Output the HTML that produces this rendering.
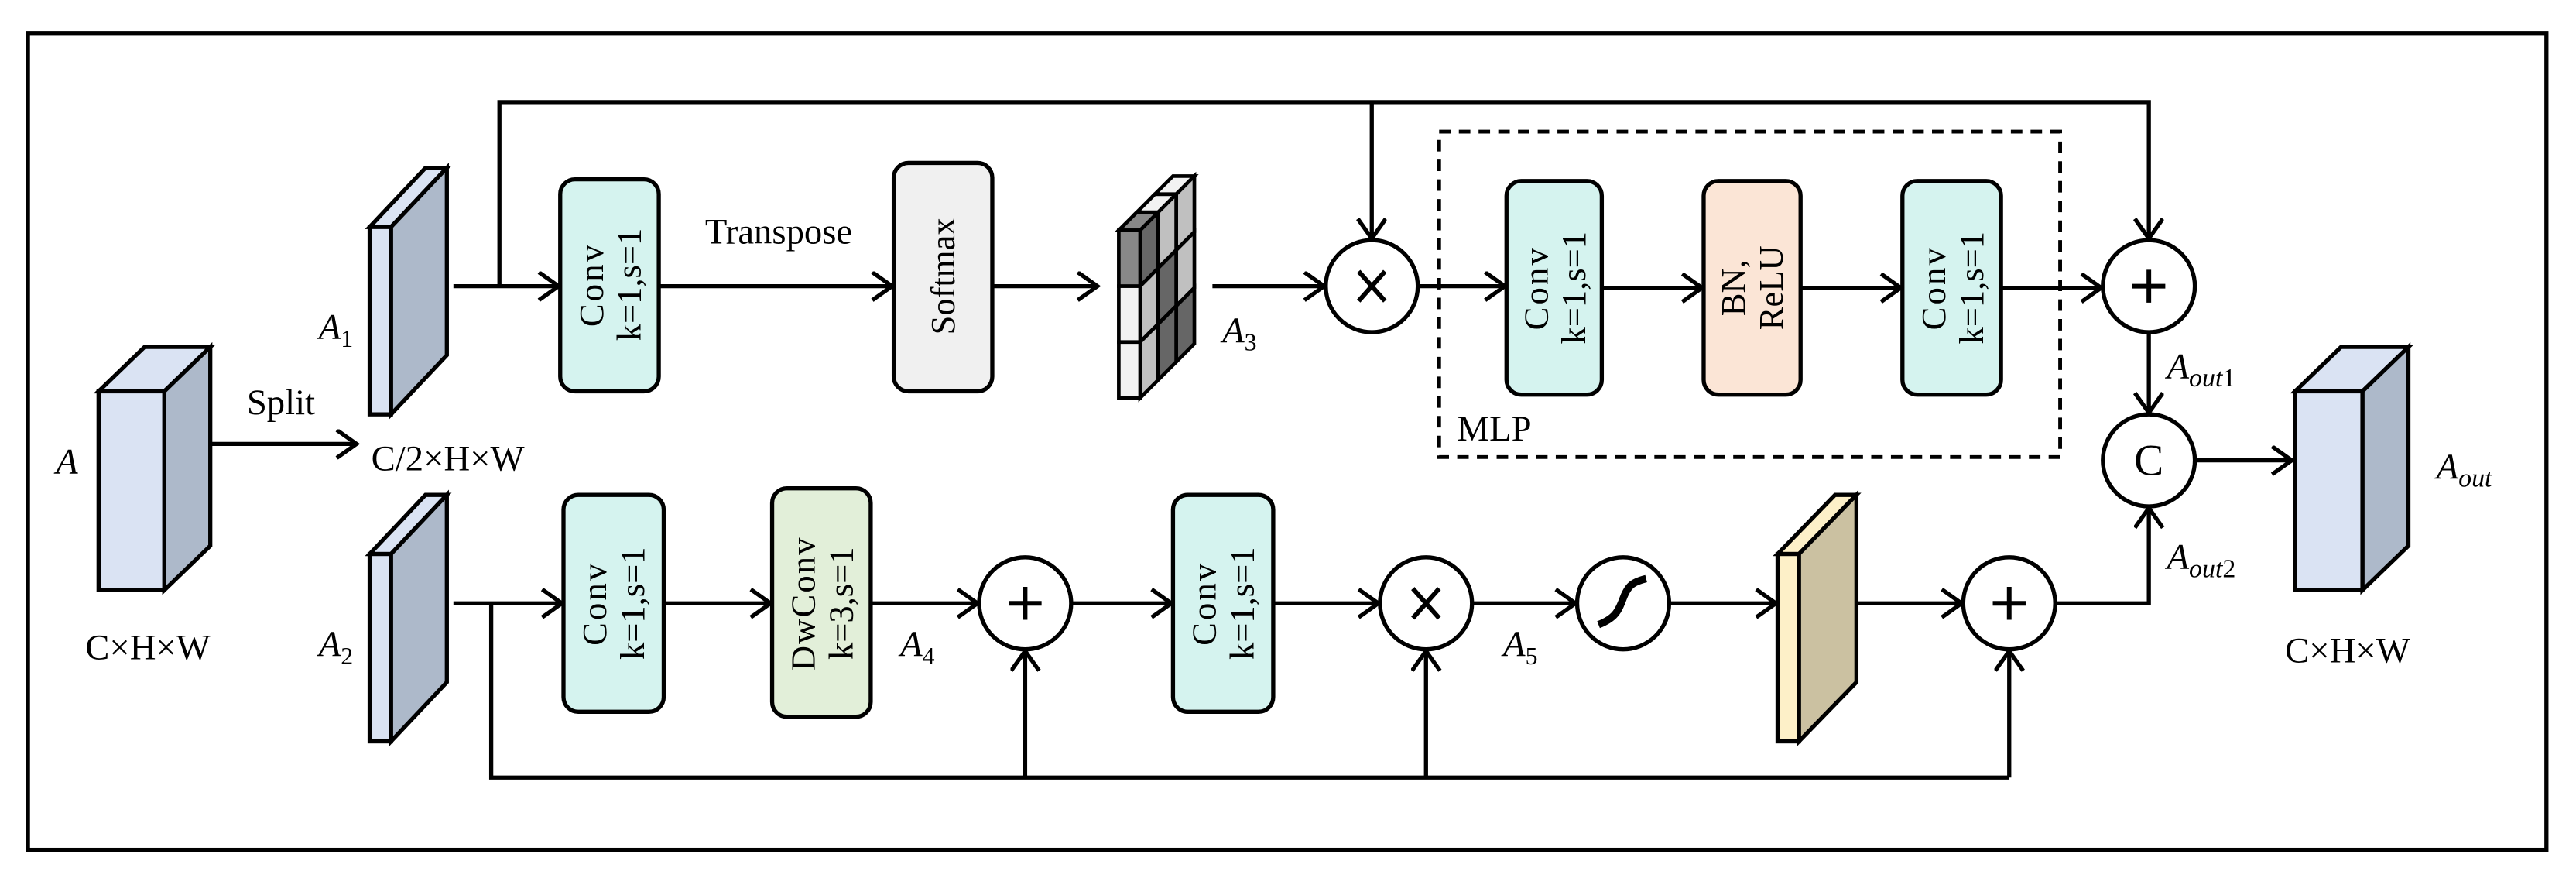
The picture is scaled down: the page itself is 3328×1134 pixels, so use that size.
<!DOCTYPE html>
<html><head><meta charset="utf-8"><style>
html,body{margin:0;padding:0;background:#fff;}
svg{display:block;}
text{font-family:"Liberation Serif",serif;fill:#000;}
</style></head><body>
<svg width="3328" height="1134" viewBox="0 0 1568 534" xmlns="http://www.w3.org/2000/svg">
<defs>
<marker id="ar" markerUnits="userSpaceOnUse" markerWidth="16" markerHeight="20" refX="13" refY="9" orient="auto">
<path d="M1,0.5 L13,9 L1,17.5" fill="none" stroke="#000" stroke-width="2.5"/>
</marker>
</defs>
<rect x="17" y="20" width="1533" height="497" fill="none" stroke="#000" stroke-width="2.5"/>

<g stroke="#000" stroke-width="2.5" stroke-linejoin="miter">
<polygon points="60,238 88,211 128,211 100,238" fill="#dae3f3"/>
<polygon points="100,238 128,211 128,332 100,359" fill="#adb9ca"/>
<rect x="60" y="238" width="40" height="121" fill="#dae3f3"/>
<polygon points="1397,238 1425,211 1466,211 1438,238" fill="#dae3f3"/>
<polygon points="1438,238 1466,211 1466,332 1438,359" fill="#adb9ca"/>
<rect x="1397" y="238" width="41" height="121" fill="#dae3f3"/>
<polygon points="225,138 259,102 272,102 238,138" fill="#dae3f3"/>
<polygon points="238,138 272,102 272,216 238,252" fill="#adb9ca"/>
<rect x="225" y="138" width="13" height="114" fill="#dae3f3"/>
<polygon points="225,337 259,301 272,301 238,337" fill="#dae3f3"/>
<polygon points="238,337 272,301 272,415 238,451" fill="#adb9ca"/>
<rect x="225" y="337" width="13" height="114" fill="#dae3f3"/>
<polygon points="1082,337 1117,301 1130,301 1095,337" fill="#fdf0c8"/>
<polygon points="1095,337 1130,301 1130,415 1095,451" fill="#cbc1a1"/>
<rect x="1082" y="337" width="13" height="114" fill="#fdf0c8"/>
</g>

<g stroke="#000" stroke-width="2.2">
<polygon points="681,140 692,129 705,129 694,140" fill="#888"/>
<polygon points="692,129 703,118 716,118 705,129" fill="#f2f2f2"/>
<polygon points="703,118 714,107 727,107 716,118" fill="#f2f2f2"/>
<polygon points="694,140 705,129 705,163 694,174" fill="#666"/>
<polygon points="694,174 705,163 705,197 694,208" fill="#c0c0c0"/>
<polygon points="694,208 705,197 705,231 694,242" fill="#c0c0c0"/>
<polygon points="705,129 716,118 716,152 705,163" fill="#c0c0c0"/>
<polygon points="705,163 716,152 716,186 705,197" fill="#666"/>
<polygon points="705,197 716,186 716,220 705,231" fill="#666"/>
<polygon points="716,118 727,107 727,141 716,152" fill="#c0c0c0"/>
<polygon points="716,152 727,141 727,175 716,186" fill="#c0c0c0"/>
<polygon points="716,186 727,175 727,209 716,220" fill="#666"/>
<rect x="681" y="140" width="13" height="34" fill="#888"/>
<rect x="681" y="174" width="13" height="34" fill="#f2f2f2"/>
<rect x="681" y="208" width="13" height="34" fill="#f2f2f2"/>
</g>

<g stroke="#000" stroke-width="2.5">
<rect x="341" y="109" width="60" height="129" rx="9" fill="#d5f3ef"/>
<rect x="544" y="99" width="60" height="139" rx="9" fill="#f0f0f0"/>
<rect x="917" y="110" width="58" height="130" rx="9" fill="#d5f3ef"/>
<rect x="1037" y="110" width="59" height="130" rx="9" fill="#fbe5d6"/>
<rect x="1158" y="110" width="60" height="130" rx="9" fill="#d5f3ef"/>
<rect x="343" y="301" width="61" height="132" rx="9" fill="#d5f3ef"/>
<rect x="470" y="297" width="60" height="139" rx="9" fill="#e2efd9"/>
<rect x="714" y="301" width="61" height="132" rx="9" fill="#d5f3ef"/>
</g>
<rect x="876" y="80" width="378" height="198" fill="none" stroke="#000" stroke-width="2.3" stroke-dasharray="7,5"/>

<g stroke="#000" stroke-width="2.5" fill="none">
<line x1="128" y1="270" x2="217" y2="270" marker-end="url(#ar)"/>
<line x1="276" y1="174" x2="340" y2="174" marker-end="url(#ar)"/>
<polyline points="304,174 304,62 1308,62 1308,145" marker-end="url(#ar)"/>
<line x1="835" y1="62" x2="835" y2="145" marker-end="url(#ar)"/>
<line x1="401" y1="174" x2="543" y2="174" marker-end="url(#ar)"/>
<line x1="604" y1="174" x2="668" y2="174" marker-end="url(#ar)"/>
<line x1="738" y1="174" x2="806" y2="174" marker-end="url(#ar)"/>
<line x1="863" y1="174" x2="916" y2="174" marker-end="url(#ar)"/>
<line x1="975" y1="175" x2="1036" y2="175" marker-end="url(#ar)"/>
<line x1="1096" y1="175" x2="1157" y2="175" marker-end="url(#ar)"/>
<line x1="1218" y1="175" x2="1279" y2="175" marker-end="url(#ar)"/>
<line x1="1308" y1="203" x2="1308" y2="251" marker-end="url(#ar)"/>
<line x1="1336" y1="280" x2="1395" y2="280" marker-end="url(#ar)"/>
<line x1="276" y1="367" x2="342" y2="367" marker-end="url(#ar)"/>
<line x1="404" y1="367" x2="469" y2="367" marker-end="url(#ar)"/>
<line x1="530" y1="367" x2="595" y2="367" marker-end="url(#ar)"/>
<line x1="652" y1="367" x2="713" y2="367" marker-end="url(#ar)"/>
<line x1="775" y1="367" x2="839" y2="367" marker-end="url(#ar)"/>
<line x1="896" y1="367" x2="959" y2="367" marker-end="url(#ar)"/>
<line x1="1016" y1="367" x2="1081" y2="367" marker-end="url(#ar)"/>
<line x1="1130" y1="367" x2="1194" y2="367" marker-end="url(#ar)"/>
<polyline points="1251,367 1308,367 1308,309" marker-end="url(#ar)"/>
<polyline points="299,367 299,473 1223,473"/>
<line x1="624" y1="473" x2="624" y2="396" marker-end="url(#ar)"/>
<line x1="868" y1="473" x2="868" y2="396" marker-end="url(#ar)"/>
<line x1="1223" y1="473" x2="1223" y2="396" marker-end="url(#ar)"/>
</g>

<g stroke="#000" stroke-width="2.5" fill="#fff">
<circle cx="835" cy="174" r="28"/>
<circle cx="1308" cy="174" r="28"/>
<circle cx="1308" cy="280" r="28"/>
<circle cx="624" cy="367" r="28"/>
<circle cx="868" cy="367" r="28"/>
<circle cx="988" cy="367" r="28"/>
<circle cx="1223" cy="367" r="28"/>
</g>
<g stroke="#000" stroke-width="2.8" fill="none">
<path d="M827,165 L843,183 M843,165 L827,183"/>
<path d="M860,358 L876,376 M876,358 L860,376"/>
<path d="M1308,164 V184 M1298,174 H1318"/>
<path d="M624,357 V377 M614,367 H634"/>
<path d="M1223,357 V377 M1213,367 H1233"/>
<path d="M973,380 C983,376 985,372 988,364 C991,356 994,354 1002,352" stroke-width="4.5"/>
</g>
<text x="1308" y="289" font-size="27" text-anchor="middle">C</text>

<g font-size="21" text-anchor="middle">
<text transform="translate(371,173) rotate(-90)"><tspan x="0" y="-4" letter-spacing="1.5">Conv</tspan><tspan x="0" y="19">k=1,s=1</tspan></text>
<text transform="translate(574,168) rotate(-90)"><tspan x="0" y="7">Softmax</tspan></text>
<text transform="translate(946,175) rotate(-90)"><tspan x="0" y="-4" letter-spacing="1.5">Conv</tspan><tspan x="0" y="19">k=1,s=1</tspan></text>
<text transform="translate(1066,175) rotate(-90)"><tspan x="0" y="-4">BN,</tspan><tspan x="0" y="19">ReLU</tspan></text>
<text transform="translate(1188,175) rotate(-90)"><tspan x="0" y="-4" letter-spacing="1.5">Conv</tspan><tspan x="0" y="19">k=1,s=1</tspan></text>
<text transform="translate(373,367) rotate(-90)"><tspan x="0" y="-4" letter-spacing="1.5">Conv</tspan><tspan x="0" y="19">k=1,s=1</tspan></text>
<text transform="translate(500,367) rotate(-90)"><tspan x="0" y="-4" letter-spacing="1">DwConv</tspan><tspan x="0" y="19">k=3,s=1</tspan></text>
<text transform="translate(744,367) rotate(-90)"><tspan x="0" y="-4" letter-spacing="1.5">Conv</tspan><tspan x="0" y="19">k=1,s=1</tspan></text>
</g>

<g font-size="22">
<text x="474" y="148" text-anchor="middle">Transpose</text>
<text x="171" y="252" text-anchor="middle">Split</text>
<text x="226" y="286">C/2×H×W</text>
<text x="90" y="401" text-anchor="middle">C×H×W</text>
<text x="1429" y="403" text-anchor="middle">C×H×W</text>
<text x="887" y="268">MLP</text>
<text x="34" y="288" font-style="italic">A</text>
<text x="194" y="206" font-style="italic">A<tspan font-size="15" dy="5" font-style="normal">1</tspan></text>
<text x="194" y="399" font-style="italic">A<tspan font-size="15" dy="5" font-style="normal">2</tspan></text>
<text x="744" y="208" font-style="italic">A<tspan font-size="15" dy="5" font-style="normal">3</tspan></text>
<text x="548" y="399" font-style="italic">A<tspan font-size="15" dy="5" font-style="normal">4</tspan></text>
<text x="915" y="399" font-style="italic">A<tspan font-size="15" dy="5" font-style="normal">5</tspan></text>
<text x="1319" y="230" font-style="italic">A<tspan font-size="16" dy="5">out</tspan><tspan font-size="16" font-style="normal">1</tspan></text>
<text x="1319" y="346" font-style="italic">A<tspan font-size="16" dy="5">out</tspan><tspan font-size="16" font-style="normal">2</tspan></text>
<text x="1483" y="291" font-style="italic">A<tspan font-size="16" dy="5">out</tspan></text>
</g>
</svg>
</body></html>
